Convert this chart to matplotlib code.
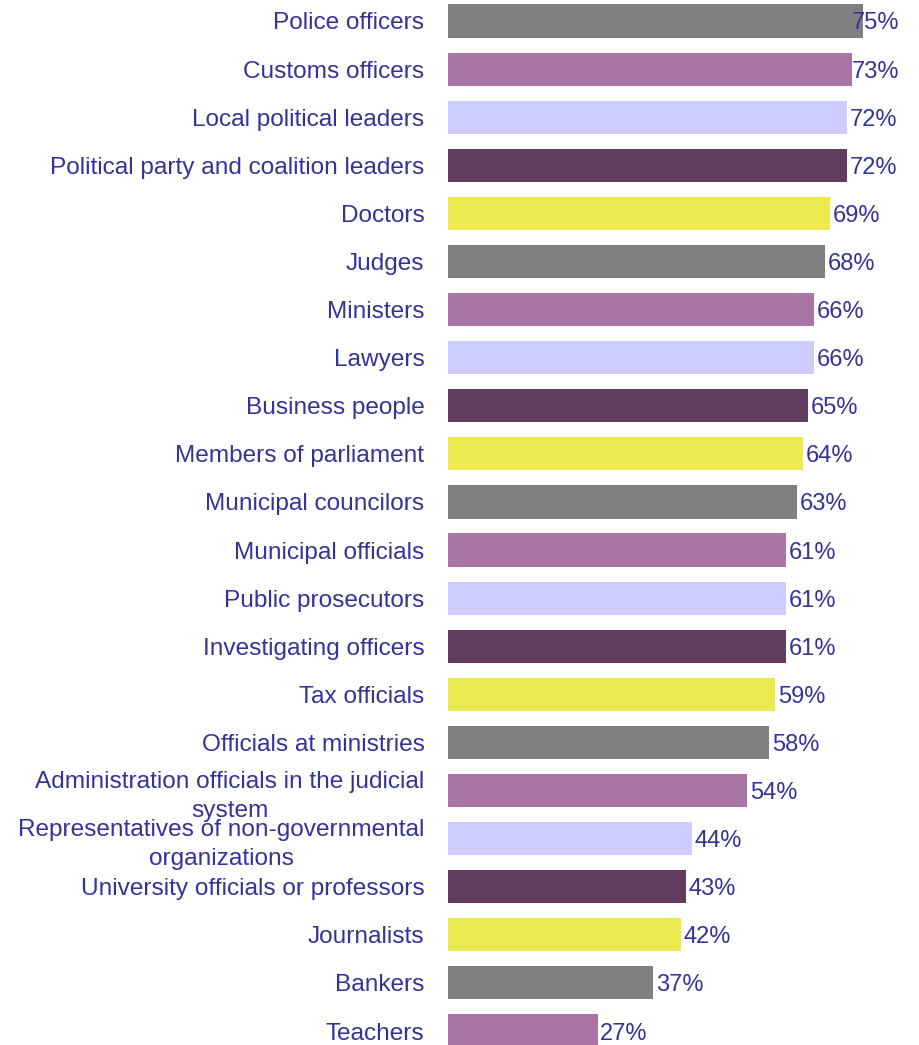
import matplotlib.pyplot as plt

categories = ['Police officers', 'Customs officers', 'Local political leaders',
              'Political party and coalition leaders', 'Doctors', 'Judges',
              'Ministers', 'Lawyers', 'Business people', 'Members of parliament',
              'Municipal councilors', 'Municipal officials', 'Public prosecutors',
              'Investigating officers', 'Tax officials', 'Officials at ministries',
              'Administration officials in the judicial\nsystem',
              'Representatives of non-governmental\norganizations',
              'University officials or professors', 'Journalists', 'Bankers',
              'Teachers']
values = [75, 73, 72, 72, 69, 68, 66, 66, 65, 64, 63, 61, 61, 61, 59, 58,
          54, 44, 43, 42, 37, 27]
palette = ['#808080', '#AA75A4', '#CCCCFF', '#623C5E', '#EBEB50']

txt = '#333399'
plt.rcParams['font.family'] = ['Liberation Sans', 'DejaVu Sans']

fig = plt.figure(figsize=(9.2, 10.45), dpi=100)
ax = fig.add_axes([448/920, 0, 452/920, 1])

pos = list(range(len(values)))
cols = [palette[i % len(palette)] for i in pos]
ax.barh(pos, values, height=0.69, color=cols)

xmax = 452/5.54
ax.set_xlim(0, xmax)
ax.set_ylim(21 + 14/48.1, -21/48.1)

# etiquetas de valor, recortadas al borde derecho
for i, v in enumerate(values):
    x = min(v + 0.5, 72.8)
    ax.text(x, i, f'{v}%', va='center_baseline', ha='left', fontsize=17,
            color=txt)

ax.set_yticks(pos)
ax.set_yticklabels(categories, fontsize=17.6, color=txt,
                   multialignment='center', linespacing=1.4)
ax.tick_params(axis='y', length=0, pad=17)
ax.set_xticks([])
for s in ax.spines.values():
    s.set_visible(False)

plt.savefig('out.png')
